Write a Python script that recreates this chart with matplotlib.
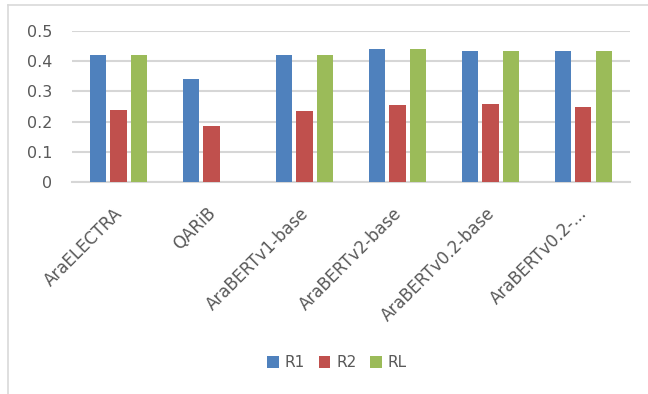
import matplotlib.pyplot as plt
import numpy as np
from matplotlib.lines import Line2D
from matplotlib.transforms import ScaledTranslation

# ROUGE scores per model
models = ["AraELECTRA", "QARiB", "AraBERTv1-base", "AraBERTv2-base",
          "AraBERTv0.2-base", "AraBERTv0.2-..."]
r1 = [0.42, 0.34, 0.42, 0.44, 0.435, 0.435]
r2 = [0.24, 0.185, 0.235, 0.255, 0.26, 0.25]
rl = [0.42, 0.0, 0.42, 0.44, 0.435, 0.435]

plt.rcParams['font.family'] = ['DejaVu Sans']
txt = '#595959'

fig = plt.figure(figsize=(6.48, 3.94), dpi=100)
ax = fig.add_axes([0.111, 0.538, 0.861, 0.383])

x = np.arange(len(models))
w = 0.175
step = 0.22
ax.bar(x - step, r1, w, color='#4F81BD', label='R1', zorder=3)
ax.bar(x, r2, w, color='#C0504D', label='R2', zorder=3)
ax.bar(x + step, rl, w, color='#9BBB59', label='RL', zorder=3)

ax.set_xlim(-0.5, len(models) - 0.5)
ax.set_ylim(0, 0.5)
ax.set_yticks([0, 0.1, 0.2, 0.3, 0.4, 0.5])
ax.set_yticklabels(['0', '0.1', '0.2', '0.3', '0.4', '0.5'])
ax.yaxis.grid(True, color='#D6D6D6', linewidth=1.5, zorder=0)
for s in ['top', 'right', 'left']:
    ax.spines[s].set_visible(False)
ax.spines['bottom'].set_color('#D6D6D6')
ax.spines['bottom'].set_linewidth(1.5)
ax.tick_params(axis='both', length=0, colors=txt)
ax.tick_params(axis='y', labelsize=11.5, pad=14)
ax.set_xticks(x)
ax.set_xticklabels(models, rotation=45, ha='right', rotation_mode='anchor',
                   fontsize=12)
ax.tick_params(axis='x', pad=16)
shift = ScaledTranslation(-0.05, 0, fig.dpi_scale_trans)
for lab in ax.get_xticklabels():
    lab.set_transform(lab.get_transform() + shift)

fig.legend(loc='center', bbox_to_anchor=(0.52, 0.079), ncol=3, frameon=False,
           fontsize=11, labelcolor=txt, handlelength=0.75, handleheight=0.75,
           handletextpad=0.4, columnspacing=0.9)

# light border around the chart area
border = dict(color='#D9D9D9', linewidth=1.2, transform=fig.transFigure)
fig.add_artist(Line2D([8 / 648, 1], [1 - 5 / 394, 1 - 5 / 394], **border))
fig.add_artist(Line2D([8 / 648, 8 / 648], [0, 1 - 5 / 394], **border))

fig.savefig('out.png', dpi=100)
